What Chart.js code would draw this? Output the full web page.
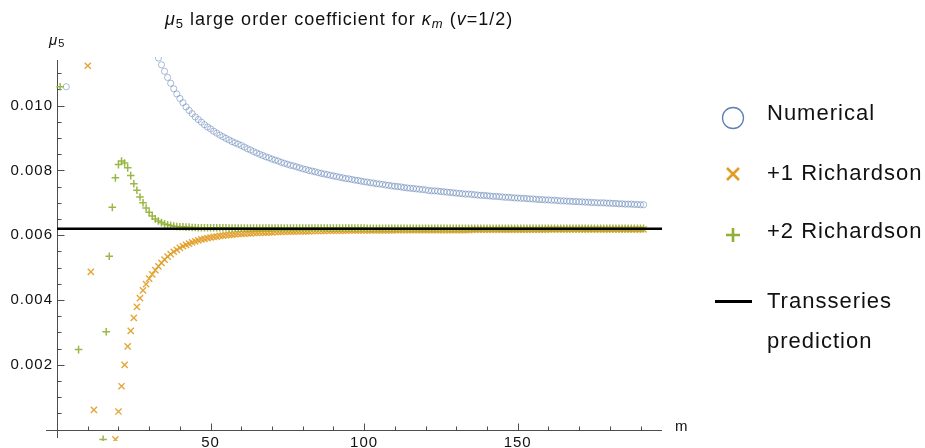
<!DOCTYPE html>
<html>
<head>
<meta charset="utf-8">
<script src="https://cdn.jsdelivr.net/npm/chart.js@4.4.1/dist/chart.umd.min.js"></script>
<style>
  html, body { margin: 0; padding: 0; background: #fff; }
  canvas { display: block; }
</style>
</head>
<body>
<canvas id="chart" width="925" height="448"></canvas>
<script>
// ---- data ----
// Numerical: one stray point, then a regular run m = 33 .. 191
const numEarlyM = [3];
const numEarlyY = [0.01058];
const numStartM = 33;
const numerical = [
  0.01147, 0.01126, 0.01106, 0.01087, 0.01069, 0.01052, 0.01036, 0.01022, 0.01009, 0.00996,
  0.00985, 0.00975, 0.00965, 0.00957, 0.00949, 0.00941, 0.00934, 0.00928, 0.00921, 0.00915,
  0.00909, 0.00904, 0.00899, 0.00894, 0.00889, 0.00885, 0.00881, 0.00877, 0.00872, 0.00867,
  0.00863, 0.00858, 0.00854, 0.00850, 0.00846, 0.00842, 0.00839, 0.00835, 0.00832, 0.00829,
  0.00825, 0.00822, 0.00819, 0.00816, 0.00814, 0.00811, 0.00808, 0.00805, 0.00803, 0.00800,
  0.00798, 0.00796, 0.00793, 0.00791, 0.00789, 0.00787, 0.00785, 0.00783, 0.00781, 0.00779,
  0.00777, 0.00775, 0.00774, 0.00772, 0.00770, 0.00769, 0.00767, 0.00765, 0.00764, 0.00762,
  0.00761, 0.00759, 0.00758, 0.00757, 0.00755, 0.00754, 0.00752, 0.00751, 0.00750, 0.00749,
  0.00747, 0.00746, 0.00745, 0.00744, 0.00743, 0.00742, 0.00741, 0.00740, 0.00738, 0.00737,
  0.00737, 0.00736, 0.00735, 0.00734, 0.00733, 0.00732, 0.00731, 0.00730, 0.00729, 0.00728,
  0.00727, 0.00727, 0.00726, 0.00725, 0.00724, 0.00723, 0.00723, 0.00722, 0.00721, 0.00720,
  0.00720, 0.00719, 0.00718, 0.00717, 0.00717, 0.00716, 0.00715, 0.00715, 0.00714, 0.00714,
  0.00713, 0.00712, 0.00712, 0.00711, 0.00710, 0.00710, 0.00709, 0.00709, 0.00708, 0.00708,
  0.00707, 0.00706, 0.00706, 0.00705, 0.00705, 0.00704, 0.00704, 0.00703, 0.00703, 0.00702,
  0.00702, 0.00701, 0.00701, 0.00700, 0.00700, 0.00700, 0.00699, 0.00699, 0.00698, 0.00698,
  0.00697, 0.00697, 0.00696, 0.00696, 0.00696, 0.00695, 0.00695, 0.00694, 0.00694
];

// +1 Richardson: scattered early points, then m = 20 .. 191
const rich1EarlyM = [10, 11, 12, 19];
const rich1EarlyY = [0.01123, 0.00487, 0.00061, -0.0003];
const rich1StartM = 20;
const rich1 = [
  0.00056, 0.00134, 0.00200, 0.00257, 0.00305, 0.00345, 0.00379, 0.00406, 0.00430, 0.00449,
  0.00466, 0.00479, 0.00492, 0.00504, 0.00515, 0.00525, 0.00534, 0.00542, 0.00549, 0.00555,
  0.00561, 0.00566, 0.00570, 0.00574, 0.00578, 0.00581, 0.00584, 0.00587, 0.00589, 0.00591,
  0.00593, 0.00595, 0.00596, 0.00598, 0.00599, 0.00600, 0.00601, 0.00602, 0.00603, 0.00604,
  0.00604, 0.00605, 0.00606, 0.00606, 0.00607, 0.00607, 0.00608, 0.00608, 0.00608, 0.00609,
  0.00609, 0.00610, 0.00610, 0.00610, 0.00611, 0.00611, 0.00611, 0.00611, 0.00612, 0.00612,
  0.00612, 0.00612, 0.00612, 0.00613, 0.00613, 0.00613, 0.00613, 0.00613, 0.00614, 0.00614,
  0.00614, 0.00614, 0.00614, 0.00614, 0.00614, 0.00615, 0.00615, 0.00615, 0.00615, 0.00615,
  0.00615, 0.00615, 0.00615, 0.00615, 0.00615, 0.00615, 0.00615, 0.00615, 0.00615, 0.00615,
  0.00616, 0.00616, 0.00616, 0.00616, 0.00616, 0.00616, 0.00616, 0.00616, 0.00616, 0.00616,
  0.00616, 0.00616, 0.00616, 0.00616, 0.00616, 0.00616, 0.00616, 0.00616, 0.00616, 0.00616,
  0.00616, 0.00616, 0.00616, 0.00616, 0.00616, 0.00617, 0.00617, 0.00617, 0.00617, 0.00617,
  0.00617, 0.00617, 0.00617, 0.00617, 0.00617, 0.00617, 0.00617, 0.00617, 0.00617, 0.00617,
  0.00617, 0.00617, 0.00617, 0.00617, 0.00617, 0.00617, 0.00617, 0.00617, 0.00617, 0.00617,
  0.00618, 0.00618, 0.00618, 0.00618, 0.00618, 0.00618, 0.00618, 0.00618, 0.00618, 0.00618,
  0.00618, 0.00618, 0.00618, 0.00618, 0.00618, 0.00618, 0.00618, 0.00618, 0.00618, 0.00618,
  0.00618, 0.00618, 0.00618, 0.00618, 0.00618, 0.00618, 0.00618, 0.00618, 0.00618, 0.00618,
  0.00618, 0.00618
];

// +2 Richardson: scattered early points, then m = 16 .. 191
const rich2EarlyM = [1, 7, 15];
const rich2EarlyY = [0.01058, 0.00247, -0.0003];
const rich2StartM = 16;
const rich2 = [
  0.00302, 0.00535, 0.00686, 0.00777, 0.00818, 0.00829, 0.00823, 0.00808, 0.00784, 0.00759,
  0.00739, 0.00718, 0.00700, 0.00684, 0.00671, 0.00659, 0.00650, 0.00644, 0.00639, 0.00635,
  0.00632, 0.00630, 0.00628, 0.00627, 0.00626, 0.00626, 0.00625, 0.00625, 0.00624, 0.00624,
  0.00623, 0.00623, 0.00623, 0.00623, 0.00623, 0.00623, 0.00623, 0.00623, 0.00623, 0.00623,
  0.00622, 0.00622, 0.00622, 0.00622, 0.00622, 0.00622, 0.00622, 0.00622, 0.00622, 0.00622,
  0.00622, 0.00622, 0.00622, 0.00622, 0.00622, 0.00622, 0.00622, 0.00622, 0.00622, 0.00622,
  0.00622, 0.00622, 0.00622, 0.00622, 0.00622, 0.00622, 0.00622, 0.00622, 0.00622, 0.00622,
  0.00622, 0.00622, 0.00622, 0.00622, 0.00622, 0.00622, 0.00622, 0.00622, 0.00622, 0.00622,
  0.00622, 0.00622, 0.00622, 0.00622, 0.00622, 0.00621, 0.00621, 0.00621, 0.00621, 0.00621,
  0.00621, 0.00621, 0.00621, 0.00621, 0.00621, 0.00621, 0.00621, 0.00621, 0.00621, 0.00621,
  0.00621, 0.00621, 0.00621, 0.00621, 0.00621, 0.00621, 0.00621, 0.00621, 0.00621, 0.00621,
  0.00621, 0.00621, 0.00621, 0.00621, 0.00621, 0.00621, 0.00621, 0.00621, 0.00621, 0.00621,
  0.00621, 0.00621, 0.00621, 0.00621, 0.00621, 0.00621, 0.00621, 0.00621, 0.00621, 0.00621,
  0.00621, 0.00621, 0.00621, 0.00621, 0.00621, 0.00621, 0.00621, 0.00621, 0.00621, 0.00621,
  0.00621, 0.00621, 0.00621, 0.00621, 0.00621, 0.00621, 0.00621, 0.00621, 0.00621, 0.00621,
  0.00621, 0.00621, 0.00621, 0.00621, 0.00621, 0.00621, 0.00621, 0.00621, 0.00621, 0.00621,
  0.00621, 0.00621, 0.00621, 0.00621, 0.00621, 0.00621, 0.00621, 0.00621, 0.00621, 0.00621,
  0.00621, 0.00621, 0.00621, 0.00621, 0.00621, 0.00621
];

// Transseries prediction (horizontal line)
const transseriesM = [0, 197];
const transseriesY = [0.0062, 0.0062];

// axes
const xMajorTicks = [50, 100, 150];
const xTickLabels = ['50', '100', '150'];
const yMajorTicks = [0.002, 0.004, 0.006, 0.008, 0.010];
const yTickLabels = ['0.002', '0.004', '0.006', '0.008', '0.010'];

const BLUE = '#5E81B5', ORANGE = '#E19C24', GREEN = '#8FB032';
const FONT = '"Liberation Sans", Arial, sans-serif';

function toPoints(earlyM, earlyY, startM, values) {
  const pts = earlyM.map((m, i) => ({ x: m, y: earlyY[i] }));
  values.forEach((v, i) => pts.push({ x: startM + i, y: v }));
  return pts;
}

function drawRich(ctx, x, y, parts) {
  parts.forEach(p => {
    ctx.font = p.font;
    ctx.fillText(p.text, x, y + (p.dy || 0));
    x += ctx.measureText(p.text).width;
  });
}

function crisp(v) { return Math.round(v) + 0.5; }

const mmaAxes = {
  id: 'mmaAxes',
  beforeDatasetsDraw(chart) {
    const { ctx, chartArea: a, scales: { x, y } } = chart;
    const x0 = crisp(x.getPixelForValue(0));
    const y0 = crisp(y.getPixelForValue(0));
    ctx.save();
    ctx.strokeStyle = '#4d4d4d';
    ctx.lineWidth = 1;
    ctx.beginPath();
    ctx.moveTo(a.left, y0); ctx.lineTo(a.right, y0);
    ctx.moveTo(x0, a.top + 3); ctx.lineTo(x0, a.bottom - 3);
    // x ticks every 10, longer at the labelled ones
    for (let v = 10; v <= 190; v += 10) {
      const px = crisp(x.getPixelForValue(v));
      const len = xMajorTicks.includes(v) ? 7 : 4;
      ctx.moveTo(px, y0); ctx.lineTo(px, y0 - len);
    }
    // y ticks every 0.0005
    for (let i = 1; i <= 22; i++) {
      const py = crisp(y.getPixelForValue(i * 0.0005));
      const len = i % 4 === 0 ? 7 : 4;
      ctx.moveTo(x0, py); ctx.lineTo(x0 + len, py);
    }
    ctx.stroke();

    ctx.fillStyle = '#111';
    ctx.letterSpacing = '1px';
    ctx.font = '15px ' + FONT;
    ctx.textAlign = 'center';
    ctx.textBaseline = 'top';
    xMajorTicks.forEach((v, i) => ctx.fillText(xTickLabels[i], x.getPixelForValue(v), 435));
    ctx.textAlign = 'right';
    ctx.textBaseline = 'middle';
    yMajorTicks.forEach((v, i) => ctx.fillText(yTickLabels[i], 53, y.getPixelForValue(v)));
    ctx.textAlign = 'left';
    ctx.textBaseline = 'middle';
    ctx.fillText('m', 675, 427);
    ctx.textBaseline = 'alphabetic';
    drawRich(ctx, 49, 45, [
      { text: 'μ', font: 'italic 15px ' + FONT },
      { text: '5', font: '11px ' + FONT, dy: 2 }
    ]);
    ctx.restore();
  },
  afterDraw(chart) {
    const ctx = chart.ctx;
    ctx.save();
    ctx.fillStyle = '#111';
    ctx.letterSpacing = '1px';
    ctx.textAlign = 'left';
    ctx.textBaseline = 'alphabetic';
    // title
    drawRich(ctx, 165, 25, [
      { text: 'μ', font: 'italic 18px ' + FONT },
      { text: '5', font: '13px ' + FONT, dy: 3 },
      { text: ' large order coefficient for ', font: '18px ' + FONT },
      { text: 'κ', font: 'italic 18px ' + FONT },
      { text: 'm', font: 'italic 13px ' + FONT, dy: 3 },
      { text: ' (', font: '18px ' + FONT },
      { text: 'v', font: 'italic 18px ' + FONT },
      { text: '=1/2)', font: '18px ' + FONT }
    ]);

    // legend
    const lx = 733, tx = 767;
    ctx.font = '22px ' + FONT;
    ctx.lineCap = 'butt';
    ctx.strokeStyle = BLUE; ctx.lineWidth = 1.3;
    ctx.beginPath(); ctx.arc(lx, 118, 10.5, 0, Math.PI * 2); ctx.stroke();
    ctx.fillText('Numerical', tx, 120);

    ctx.strokeStyle = ORANGE; ctx.lineWidth = 2.6;
    ctx.beginPath();
    ctx.moveTo(lx - 6, 168); ctx.lineTo(lx + 6, 180);
    ctx.moveTo(lx - 6, 180); ctx.lineTo(lx + 6, 168);
    ctx.stroke();
    ctx.fillText('+1 Richardson', tx, 180);

    ctx.strokeStyle = GREEN; ctx.lineWidth = 2.6;
    ctx.beginPath();
    ctx.moveTo(lx - 7, 235); ctx.lineTo(lx + 7, 235);
    ctx.moveTo(lx, 228); ctx.lineTo(lx, 242);
    ctx.stroke();
    ctx.fillText('+2 Richardson', tx, 238);

    ctx.strokeStyle = '#000'; ctx.lineWidth = 3;
    ctx.beginPath(); ctx.moveTo(715, 301.5); ctx.lineTo(752, 301.5); ctx.stroke();
    ctx.fillText('Transseries', tx, 308);
    ctx.fillText('prediction', tx, 348);
    ctx.restore();
  }
};

new Chart(document.getElementById('chart').getContext('2d'), {
  type: 'scatter',
  data: {
    datasets: [
      {
        label: 'Transseries prediction',
        type: 'line',
        data: transseriesM.map((m, i) => ({ x: m, y: transseriesY[i] })),
        borderColor: '#000',
        borderWidth: 2.6,
        pointRadius: 0,
        order: 0,
        clip: 0
      },
      {
        label: '+2 Richardson',
        data: toPoints(rich2EarlyM, rich2EarlyY, rich2StartM, rich2),
        pointStyle: 'cross',
        pointRadius: 3.8,
        borderColor: 'rgba(143, 176, 50, 0.9)',
        borderWidth: 1.5,
        order: 1,
        clip: 0
      },
      {
        label: '+1 Richardson',
        data: toPoints(rich1EarlyM, rich1EarlyY, rich1StartM, rich1),
        pointStyle: 'crossRot',
        pointRadius: 4.4,
        borderColor: 'rgba(225, 156, 36, 0.9)',
        borderWidth: 1.4,
        order: 2,
        clip: 0
      },
      {
        label: 'Numerical',
        data: toPoints(numEarlyM, numEarlyY, numStartM, numerical),
        pointStyle: 'circle',
        pointRadius: 3.1,
        backgroundColor: 'rgba(0, 0, 0, 0)',
        borderColor: 'rgba(94, 129, 181, 0.6)',
        borderWidth: 0.9,
        order: 3,
        clip: 0
      }
    ]
  },
  options: {
    responsive: false,
    animation: false,
    layout: { padding: { left: 46, right: 263, top: 57, bottom: 7 } },
    scales: {
      x: { type: 'linear', min: -3.6, max: 197, display: false },
      y: { type: 'linear', min: -0.00035, max: 0.0115, display: false }
    },
    plugins: {
      legend: { display: false },
      tooltip: { enabled: false }
    }
  },
  plugins: [mmaAxes]
});
</script>
</body>
</html>
